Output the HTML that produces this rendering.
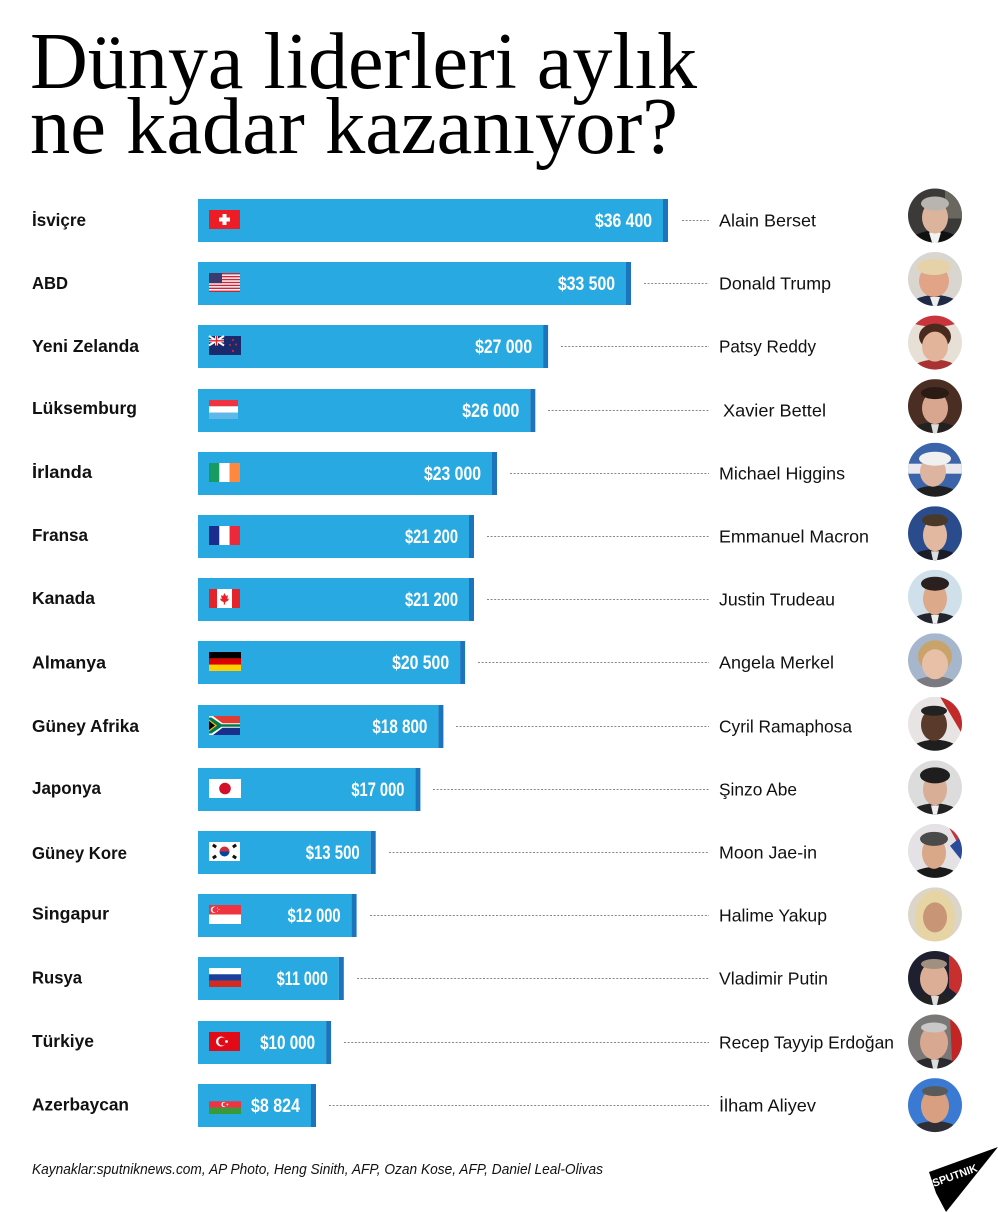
<!DOCTYPE html>
<html><head><meta charset="utf-8">
<style>
html,body{margin:0;padding:0;background:#fff;}
svg{display:block;}
.t{font-family:"Liberation Serif",serif;font-size:80px;fill:#000;}
.c{font-family:"Liberation Sans",sans-serif;font-weight:bold;font-size:17.5px;fill:#111;}
.n{font-family:"Liberation Sans",sans-serif;font-size:17.5px;fill:#111;}
.v{font-family:"Liberation Sans",sans-serif;font-weight:bold;font-size:19px;fill:#fff;}
.b{fill:#29a9e1;}
.k{fill:#1c74bc;}
.d{stroke:#888;stroke-width:1;stroke-dasharray:2 1.6;}
.f{font-family:"Liberation Sans",sans-serif;font-style:italic;font-size:14.5px;fill:#111;}
</style></head>
<body>
<svg width="998" height="1212" viewBox="0 0 998 1212" xmlns="http://www.w3.org/2000/svg">
<defs>
<clipPath id="cc" clipPathUnits="userSpaceOnUse"><circle cx="0" cy="0" r="27"/></clipPath>
</defs>
<rect width="998" height="1212" fill="#fff"/>
<text class="t" x="30" y="88" textLength="667" lengthAdjust="spacingAndGlyphs">Dünya liderleri aylık</text>
<text class="t" x="30" y="153" textLength="648" lengthAdjust="spacingAndGlyphs">ne kadar kazanıyor?</text>

<!-- Row 1 -->
<g transform="translate(0,199)">
<text class="c" x="32" y="27" textLength="54" lengthAdjust="spacingAndGlyphs">İsviçre</text>
<rect class="b" x="198" y="0" width="465" height="43"/><rect class="k" x="663" y="0" width="5" height="43"/>
<g transform="translate(209,11)"><rect width="31" height="19" fill="#ee1c24"/><rect x="13.5" y="4" width="4" height="11" fill="#fff"/><rect x="10" y="7.5" width="11" height="4" fill="#fff"/></g>
<text class="v" x="595" y="28" textLength="57" lengthAdjust="spacingAndGlyphs">$36 400</text>
<line class="d" x1="682" x2="709" y1="21.5" y2="21.5"/>
<text class="n" x="719" y="27.5" textLength="97" lengthAdjust="spacingAndGlyphs">Alain Berset</text>
</g>

<!-- Row 2 -->
<g transform="translate(0,262)">
<text class="c" x="32" y="27" textLength="36" lengthAdjust="spacingAndGlyphs">ABD</text>
<rect class="b" x="198" y="0" width="428" height="43"/><rect class="k" x="626" y="0" width="5" height="43"/>
<g transform="translate(209,11)"><rect width="31" height="19" fill="#fff"/>
<rect y="0" width="31" height="1.46" fill="#c8283c"/><rect y="2.92" width="31" height="1.46" fill="#c8283c"/><rect y="5.84" width="31" height="1.46" fill="#c8283c"/><rect y="8.77" width="31" height="1.46" fill="#c8283c"/><rect y="11.69" width="31" height="1.46" fill="#c8283c"/><rect y="14.6" width="31" height="1.46" fill="#c8283c"/><rect y="17.54" width="31" height="1.46" fill="#c8283c"/>
<rect width="13" height="10.2" fill="#3c3b6e"/></g>
<text class="v" x="558" y="28" textLength="57" lengthAdjust="spacingAndGlyphs">$33 500</text>
<line class="d" x1="644" x2="709" y1="21.5" y2="21.5"/>
<text class="n" x="719" y="27.5" textLength="112" lengthAdjust="spacingAndGlyphs">Donald Trump</text>
</g>

<!-- Row 3 -->
<g transform="translate(0,325)">
<text class="c" x="32" y="27" textLength="107" lengthAdjust="spacingAndGlyphs">Yeni Zelanda</text>
<rect class="b" x="198" y="0" width="345.1" height="43"/><rect class="k" x="543.1" y="0" width="5" height="43"/>
<g transform="translate(209,11)"><rect width="32" height="19" fill="#1a2a6c"/>
<line x1="0" y1="0" x2="15" y2="9.5" stroke="#fff" stroke-width="2"/><line x1="15" y1="0" x2="0" y2="9.5" stroke="#fff" stroke-width="2"/>
<rect x="6" y="0" width="3" height="9.5" fill="#fff"/><rect x="0" y="3.3" width="15" height="3" fill="#fff"/>
<rect x="6.8" y="0" width="1.4" height="9.5" fill="#e0242c"/><rect x="0" y="4.1" width="15" height="1.4" fill="#e0242c"/>
<circle cx="24" cy="4" r="1" fill="#e0242c"/><circle cx="21" cy="9" r="1" fill="#e0242c"/><circle cx="27" cy="8.5" r="1" fill="#e0242c"/><circle cx="24" cy="15" r="1.1" fill="#e0242c"/></g>
<text class="v" x="475.1" y="28" textLength="57" lengthAdjust="spacingAndGlyphs">$27 000</text>
<line class="d" x1="561" x2="709" y1="21.5" y2="21.5"/>
<text class="n" x="719" y="27.5" textLength="97" lengthAdjust="spacingAndGlyphs">Patsy Reddy</text>
</g>

<!-- Row 4 -->
<g transform="translate(0,389)">
<text class="c" x="32" y="25" textLength="105" lengthAdjust="spacingAndGlyphs">Lüksemburg</text>
<rect class="b" x="198" y="0" width="332.3" height="43"/><rect class="k" x="530.3" y="0" width="5" height="43"/>
<g transform="translate(209,11)"><rect width="29" height="6.4" fill="#ef3340"/><rect y="6.3" width="29" height="6.4" fill="#fff"/><rect y="12.6" width="29" height="6.4" fill="#5fb8e8"/></g>
<text class="v" x="462.3" y="28" textLength="57" lengthAdjust="spacingAndGlyphs">$26 000</text>
<line class="d" x1="548" x2="709" y1="21.5" y2="21.5"/>
<text class="n" x="723" y="27.5" textLength="103" lengthAdjust="spacingAndGlyphs">Xavier Bettel</text>
</g>

<!-- Row 5 -->
<g transform="translate(0,452)">
<text class="c" x="32" y="26" textLength="60" lengthAdjust="spacingAndGlyphs">İrlanda</text>
<rect class="b" x="198" y="0" width="294" height="43"/><rect class="k" x="492" y="0" width="5" height="43"/>
<g transform="translate(209,11)"><rect width="10.4" height="19" fill="#169b62"/><rect x="10.3" width="10.4" height="19" fill="#fff"/><rect x="20.6" width="10.4" height="19" fill="#ff883e"/></g>
<text class="v" x="424" y="28" textLength="57" lengthAdjust="spacingAndGlyphs">$23 000</text>
<line class="d" x1="510" x2="709" y1="21.5" y2="21.5"/>
<text class="n" x="719" y="27.5" textLength="126" lengthAdjust="spacingAndGlyphs">Michael Higgins</text>
</g>

<!-- Row 6 -->
<g transform="translate(0,515)">
<text class="c" x="32" y="26" textLength="56" lengthAdjust="spacingAndGlyphs">Fransa</text>
<rect class="b" x="198" y="0" width="271" height="43"/><rect class="k" x="469" y="0" width="5" height="43"/>
<g transform="translate(209,11)"><rect width="10.4" height="19" fill="#1a2c8e"/><rect x="10.3" width="10.4" height="19" fill="#fff"/><rect x="20.6" width="10.4" height="19" fill="#ed2939"/></g>
<text class="v" x="405" y="28" textLength="53" lengthAdjust="spacingAndGlyphs">$21 200</text>
<line class="d" x1="487" x2="709" y1="21.5" y2="21.5"/>
<text class="n" x="719" y="27.5" textLength="150" lengthAdjust="spacingAndGlyphs">Emmanuel Macron</text>
</g>

<!-- Row 7 -->
<g transform="translate(0,578)">
<text class="c" x="32" y="26" textLength="63" lengthAdjust="spacingAndGlyphs">Kanada</text>
<rect class="b" x="198" y="0" width="271" height="43"/><rect class="k" x="469" y="0" width="5" height="43"/>
<g transform="translate(209,11)"><rect width="31" height="19" fill="#fff"/><rect width="8" height="19" fill="#e4232b"/><rect x="23" width="8" height="19" fill="#e4232b"/>
<path d="M15.5 4 L17 7 L19 6.3 L18.2 10 L20 9.5 L19.2 11.5 L16.2 13.2 L16.2 15.5 L14.8 15.5 L14.8 13.2 L11.8 11.5 L11 9.5 L12.8 10 L12 6.3 L14 7 Z" fill="#e4232b"/></g>
<text class="v" x="405" y="28" textLength="53" lengthAdjust="spacingAndGlyphs">$21 200</text>
<line class="d" x1="487" x2="709" y1="21.5" y2="21.5"/>
<text class="n" x="719" y="27.5" textLength="116" lengthAdjust="spacingAndGlyphs">Justin Trudeau</text>
</g>

<!-- Row 8 -->
<g transform="translate(0,641)">
<text class="c" x="32" y="27.5" textLength="74" lengthAdjust="spacingAndGlyphs">Almanya</text>
<rect class="b" x="198" y="0" width="262.1" height="43"/><rect class="k" x="460.1" y="0" width="5" height="43"/>
<g transform="translate(209,11)"><rect width="32" height="6.4" fill="#000"/><rect y="6.3" width="32" height="6.4" fill="#dd0000"/><rect y="12.6" width="32" height="6.4" fill="#ffce00"/></g>
<text class="v" x="392.1" y="28" textLength="57" lengthAdjust="spacingAndGlyphs">$20 500</text>
<line class="d" x1="478" x2="709" y1="21.5" y2="21.5"/>
<text class="n" x="719" y="27.5" textLength="115" lengthAdjust="spacingAndGlyphs">Angela Merkel</text>
</g>

<!-- Row 9 -->
<g transform="translate(0,705)">
<text class="c" x="32" y="27" textLength="107" lengthAdjust="spacingAndGlyphs">Güney Afrika</text>
<rect class="b" x="198" y="0" width="240.4" height="43"/><rect class="k" x="438.4" y="0" width="5" height="43"/>
<g transform="translate(209,11)"><rect width="31" height="9.5" fill="#e03c31"/><rect y="9.5" width="31" height="9.5" fill="#1a2f8a"/>
<path d="M0 0 L11 9.5 L0 19 Z" fill="#fff"/><path d="M0 0 L4 0 L13.5 7.2 L31 7.2 L31 11.8 L13.5 11.8 L4 19 L0 19 Z" fill="#fff"/>
<path d="M0 1.5 L2.5 1.5 L12.5 8.3 L31 8.3 L31 10.7 L12.5 10.7 L2.5 17.5 L0 17.5 Z" fill="#007a4d"/>
<path d="M0 3.5 L8 9.5 L0 15.5 Z" fill="#ffb612"/><path d="M0 5 L6 9.5 L0 14 Z" fill="#000"/></g>
<text class="v" x="372.4" y="28" textLength="55" lengthAdjust="spacingAndGlyphs">$18 800</text>
<line class="d" x1="456" x2="709" y1="21.5" y2="21.5"/>
<text class="n" x="719" y="27.5" textLength="133" lengthAdjust="spacingAndGlyphs">Cyril Ramaphosa</text>
</g>

<!-- Row 10 -->
<g transform="translate(0,768)">
<text class="c" x="32" y="26" textLength="69" lengthAdjust="spacingAndGlyphs">Japonya</text>
<rect class="b" x="198" y="0" width="217.4" height="43"/><rect class="k" x="415.4" y="0" width="5" height="43"/>
<g transform="translate(209,11)"><rect width="32" height="19" fill="#fff"/><circle cx="16" cy="9.5" r="5.8" fill="#d3102c"/></g>
<text class="v" x="351.4" y="28" textLength="53" lengthAdjust="spacingAndGlyphs">$17 000</text>
<line class="d" x1="433" x2="709" y1="21.5" y2="21.5"/>
<text class="n" x="719" y="27.5" textLength="78" lengthAdjust="spacingAndGlyphs">Şinzo Abe</text>
</g>

<!-- Row 11 -->
<g transform="translate(0,831)">
<text class="c" x="32" y="28" textLength="95" lengthAdjust="spacingAndGlyphs">Güney Kore</text>
<rect class="b" x="198" y="0" width="172.7" height="43"/><rect class="k" x="370.7" y="0" width="5" height="43"/>
<g transform="translate(209,11)"><rect width="31" height="19" fill="#fff"/>
<path d="M10.5 9.5 A5 5 0 0 1 20.5 9.5 Z" fill="#cd2e3a"/><path d="M10.5 9.5 A5 5 0 0 0 20.5 9.5 Z" fill="#0047a0"/>
<g fill="#111"><rect x="3.5" y="2.5" width="4" height="3" transform="rotate(35 5.5 4)"/><rect x="23.5" y="2.5" width="4" height="3" transform="rotate(-35 25.5 4)"/><rect x="3.5" y="13.5" width="4" height="3" transform="rotate(-35 5.5 15)"/><rect x="23.5" y="13.5" width="4" height="3" transform="rotate(35 25.5 15)"/></g></g>
<text class="v" x="305.7" y="28" textLength="54" lengthAdjust="spacingAndGlyphs">$13 500</text>
<line class="d" x1="389" x2="709" y1="21.5" y2="21.5"/>
<text class="n" x="719" y="27.5" textLength="98" lengthAdjust="spacingAndGlyphs">Moon Jae-in</text>
</g>

<!-- Row 12 -->
<g transform="translate(0,894)">
<text class="c" x="32" y="25.5" textLength="77" lengthAdjust="spacingAndGlyphs">Singapur</text>
<rect class="b" x="198" y="0" width="153.6" height="43"/><rect class="k" x="351.6" y="0" width="5" height="43"/>
<g transform="translate(209,11)"><rect width="32" height="9.5" fill="#ef3340"/><rect y="9.5" width="32" height="9.5" fill="#fff"/>
<circle cx="5" cy="4.7" r="3.2" fill="#fff"/><circle cx="6.2" cy="4.7" r="2.8" fill="#ef3340"/><circle cx="8.5" cy="3" r="0.55" fill="#fff"/><circle cx="10" cy="4.5" r="0.55" fill="#fff"/><circle cx="8.5" cy="6.3" r="0.55" fill="#fff"/></g>
<text class="v" x="287.6" y="28" textLength="53" lengthAdjust="spacingAndGlyphs">$12 000</text>
<line class="d" x1="370" x2="709" y1="21.5" y2="21.5"/>
<text class="n" x="719" y="27.5" textLength="108" lengthAdjust="spacingAndGlyphs">Halime Yakup</text>
</g>

<!-- Row 13 -->
<g transform="translate(0,957)">
<text class="c" x="32" y="26.5" textLength="50" lengthAdjust="spacingAndGlyphs">Rusya</text>
<rect class="b" x="198" y="0" width="140.8" height="43"/><rect class="k" x="338.8" y="0" width="5" height="43"/>
<g transform="translate(209,11)"><rect width="32" height="6.4" fill="#fff"/><rect y="6.3" width="32" height="6.4" fill="#1c3f9e"/><rect y="12.6" width="32" height="6.4" fill="#d52b1e"/></g>
<text class="v" x="276.8" y="28" textLength="51" lengthAdjust="spacingAndGlyphs">$11 000</text>
<line class="d" x1="357" x2="709" y1="21.5" y2="21.5"/>
<text class="n" x="719" y="27.5" textLength="109" lengthAdjust="spacingAndGlyphs">Vladimir Putin</text>
</g>

<!-- Row 14 -->
<g transform="translate(0,1021)">
<text class="c" x="32" y="26" textLength="62" lengthAdjust="spacingAndGlyphs">Türkiye</text>
<rect class="b" x="198" y="0" width="128.1" height="43"/><rect class="k" x="326.1" y="0" width="5" height="43"/>
<g transform="translate(209,11)"><rect width="31" height="19" fill="#e30a17"/><circle cx="12" cy="9.5" r="5" fill="#fff"/><circle cx="13.3" cy="9.5" r="4" fill="#e30a17"/>
<path d="M19 9.5 L16.2 8.6 L17.9 11 L17.9 8 L16.2 10.4 Z" fill="#fff"/><circle cx="17.5" cy="9.5" r="1.4" fill="#fff"/></g>
<text class="v" x="260.1" y="28" textLength="55" lengthAdjust="spacingAndGlyphs">$10 000</text>
<line class="d" x1="344" x2="709" y1="21.5" y2="21.5"/>
<text class="n" x="719" y="27.5" textLength="175" lengthAdjust="spacingAndGlyphs">Recep Tayyip Erdoğan</text>
</g>

<!-- Row 15 -->
<g transform="translate(0,1084)">
<text class="c" x="32" y="26.7" textLength="97" lengthAdjust="spacingAndGlyphs">Azerbaycan</text>
<rect class="b" x="198" y="0" width="113" height="43"/><rect class="k" x="311" y="0" width="5" height="43"/>
<g transform="translate(209,11)"><rect width="32" height="6.4" fill="#27a9e1"/><rect y="6.3" width="32" height="6.4" fill="#ef3340"/><rect y="12.6" width="32" height="6.4" fill="#3a9a3a"/>
<circle cx="15" cy="9.5" r="2.6" fill="#fff"/><circle cx="15.8" cy="9.5" r="2.1" fill="#ef3340"/><circle cx="18.4" cy="9.5" r="0.9" fill="#fff"/></g>
<text class="v" x="251" y="28" textLength="49" lengthAdjust="spacingAndGlyphs">$8 824</text>
<line class="d" x1="329" x2="709" y1="21.5" y2="21.5"/>
<text class="n" x="719" y="27.5" textLength="97" lengthAdjust="spacingAndGlyphs">İlham Aliyev</text>
</g>

<!-- Photos -->
<g transform="translate(935,215.5)" clip-path="url(#cc)">
<rect x="-27" y="-27" width="54" height="54" fill="#3b3a38"/><rect x="10" y="-27" width="17" height="30" fill="#6a6660"/>
<ellipse cx="0" cy="30" rx="27" ry="15" fill="#111"/><path d="M-6 17 L6 17 L3 27 L-3 27Z" fill="#f2f2f2"/>
<ellipse cx="0" cy="2" rx="13" ry="16" fill="#dcb49c"/><ellipse cx="0" cy="-12" rx="14" ry="7" fill="#b8b4b0"/></g>

<g transform="translate(935,279)" clip-path="url(#cc)">
<rect x="-27" y="-27" width="54" height="54" fill="#d9d6d0"/>
<ellipse cx="0" cy="30" rx="27" ry="14" fill="#1f2a48"/><path d="M-5 18 L5 18 L2 27 L-2 27Z" fill="#eee"/>
<ellipse cx="-1" cy="2" rx="15" ry="16" fill="#e2a486"/><ellipse cx="-1" cy="-12" rx="17" ry="8" fill="#e6d2a8"/></g>

<g transform="translate(935,342.6)" clip-path="url(#cc)">
<rect x="-27" y="-27" width="54" height="54" fill="#e6e0d6"/><ellipse cx="0" cy="-24" rx="27" ry="8" fill="#c9353a"/>
<ellipse cx="0" cy="30" rx="25" ry="13" fill="#a83232"/>
<ellipse cx="0" cy="-6" rx="16" ry="13" fill="#4a2a1e"/><ellipse cx="0" cy="4" rx="13" ry="15" fill="#e2b49a"/></g>

<g transform="translate(935,406.1)" clip-path="url(#cc)">
<rect x="-27" y="-27" width="54" height="54" fill="#4a2e24"/>
<ellipse cx="0" cy="30" rx="27" ry="14" fill="#232020"/><path d="M-4 18 L4 18 L2 27 L-2 27Z" fill="#ddd"/>
<ellipse cx="0" cy="2" rx="13" ry="16" fill="#d8a68e"/><ellipse cx="0" cy="-13" rx="14" ry="6" fill="#2a1c14"/></g>

<g transform="translate(935,469.7)" clip-path="url(#cc)">
<rect x="-27" y="-27" width="54" height="54" fill="#3c64aa"/><rect x="-27" y="-6" width="54" height="10" fill="#e8e8ee"/>
<ellipse cx="0" cy="30" rx="27" ry="14" fill="#202020"/>
<ellipse cx="-2" cy="2" rx="13" ry="15" fill="#dcb4a0"/><ellipse cx="0" cy="-11" rx="16" ry="7" fill="#f0f0f0"/></g>

<g transform="translate(935,533.2)" clip-path="url(#cc)">
<rect x="-27" y="-27" width="54" height="54" fill="#2a4c8c"/>
<ellipse cx="0" cy="30" rx="27" ry="14" fill="#1a1c28"/><path d="M-4 18 L4 18 L2 27 L-2 27Z" fill="#ddd"/>
<ellipse cx="0" cy="2" rx="12" ry="16" fill="#e2b8a0"/><ellipse cx="0" cy="-13" rx="13" ry="6" fill="#4a3828"/></g>

<g transform="translate(935,596.7)" clip-path="url(#cc)">
<rect x="-27" y="-27" width="54" height="54" fill="#cfe0ea"/>
<ellipse cx="0" cy="30" rx="27" ry="14" fill="#22262c"/><path d="M-4 18 L4 18 L2 27 L-2 27Z" fill="#eee"/>
<ellipse cx="0" cy="2" rx="12" ry="16" fill="#dcaa8a"/><ellipse cx="0" cy="-13" rx="14" ry="7" fill="#2a2020"/></g>

<g transform="translate(935,660.3)" clip-path="url(#cc)">
<rect x="-27" y="-27" width="54" height="54" fill="#a6b6cc"/>
<ellipse cx="0" cy="30" rx="27" ry="14" fill="#7a7a80"/>
<ellipse cx="0" cy="-4" rx="17" ry="16" fill="#c9a46a"/><ellipse cx="0" cy="4" rx="13" ry="15" fill="#e8c0a8"/></g>

<g transform="translate(935,723.8)" clip-path="url(#cc)">
<rect x="-27" y="-27" width="54" height="54" fill="#e8e4e4"/><path d="M5 -27 L27 -27 L27 10Z" fill="#c02a2a"/>
<ellipse cx="0" cy="30" rx="27" ry="14" fill="#1e1e1e"/>
<ellipse cx="-1" cy="1" rx="13" ry="16" fill="#5a3a2a"/><ellipse cx="-1" cy="-13" rx="13" ry="5" fill="#222"/></g>

<g transform="translate(935,787.4)" clip-path="url(#cc)">
<rect x="-27" y="-27" width="54" height="54" fill="#dcdcdc"/>
<ellipse cx="0" cy="30" rx="27" ry="14" fill="#222"/><path d="M-4 18 L4 18 L2 27 L-2 27Z" fill="#eee"/>
<ellipse cx="0" cy="2" rx="12" ry="16" fill="#d8ae96"/><ellipse cx="0" cy="-12" rx="15" ry="8" fill="#1e1e1e"/></g>

<g transform="translate(935,850.9)" clip-path="url(#cc)">
<rect x="-27" y="-27" width="54" height="54" fill="#e4e2e4"/><path d="M12 -27 L27 -27 L27 0Z" fill="#c8303a"/><path d="M15 -5 L27 -15 L27 10Z" fill="#2a4a9a"/>
<ellipse cx="0" cy="30" rx="27" ry="14" fill="#1a1a1a"/>
<ellipse cx="-1" cy="2" rx="12" ry="16" fill="#d8a888"/><ellipse cx="-1" cy="-12" rx="14" ry="7" fill="#4a4a4a"/></g>

<g transform="translate(935,914.4)" clip-path="url(#cc)">
<rect x="-27" y="-27" width="54" height="54" fill="#dcd6ca"/>
<ellipse cx="0" cy="4" rx="20" ry="28" fill="#e6d4a4"/>
<ellipse cx="0" cy="3" rx="12" ry="15" fill="#c89676"/></g>

<g transform="translate(935,978)" clip-path="url(#cc)">
<rect x="-27" y="-27" width="54" height="54" fill="#1e2030"/><path d="M14 -27 L27 -27 L27 20 L14 10Z" fill="#c83030"/>
<ellipse cx="0" cy="30" rx="27" ry="14" fill="#222"/><path d="M-4 18 L4 18 L2 27 L-2 27Z" fill="#ddd"/>
<ellipse cx="-1" cy="1" rx="14" ry="17" fill="#dcae96"/><ellipse cx="-1" cy="-14" rx="13" ry="5" fill="#a09080"/></g>

<g transform="translate(935,1041.5)" clip-path="url(#cc)">
<rect x="-27" y="-27" width="54" height="54" fill="#7a7876"/><path d="M15 -27 L27 -27 L27 20 L17 20Z" fill="#c42424"/>
<ellipse cx="0" cy="30" rx="27" ry="14" fill="#2a2a2e"/><path d="M-4 18 L4 18 L2 27 L-2 27Z" fill="#ddd"/>
<ellipse cx="-1" cy="1" rx="14" ry="17" fill="#d8a890"/><ellipse cx="-1" cy="-14" rx="13" ry="5" fill="#c8c8c8"/></g>

<g transform="translate(935,1105.1)" clip-path="url(#cc)">
<rect x="-27" y="-27" width="54" height="54" fill="#3a7ad2"/>
<ellipse cx="0" cy="30" rx="27" ry="14" fill="#2e2e34"/>
<ellipse cx="0" cy="1" rx="14" ry="17" fill="#d8a080"/><ellipse cx="0" cy="-14" rx="13" ry="5" fill="#5a5a5a"/></g>

<!-- Footer -->
<text class="f" x="32" y="1174" textLength="571" lengthAdjust="spacingAndGlyphs">Kaynaklar:sputniknews.com, AP Photo, Heng Sinith, AFP, Ozan Kose, AFP, Daniel Leal-Olivas</text>

<!-- Sputnik logo -->
<polygon points="998,1147 929,1172 936,1193 946,1212" fill="#000"/>
<text x="934" y="1187" transform="rotate(-20 934 1187)" font-family="Liberation Sans, sans-serif" font-weight="bold" font-size="11" fill="#fff" textLength="47" lengthAdjust="spacingAndGlyphs">SPUTNIK</text>
</svg>
</body></html>
